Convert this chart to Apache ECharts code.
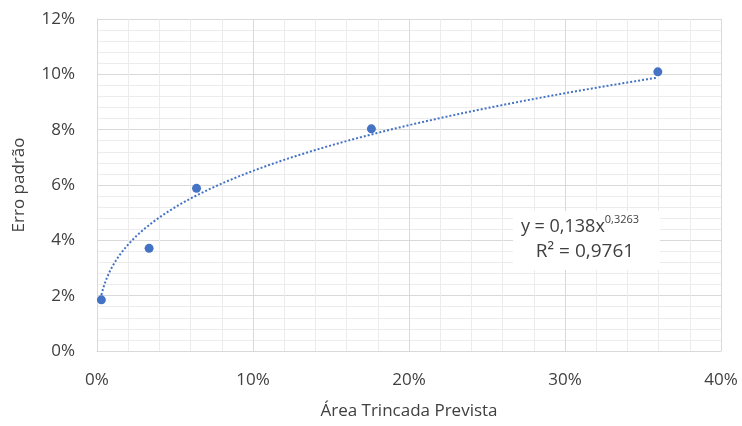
<!DOCTYPE html>
<html>
<head>
<meta charset="utf-8">
<script src="https://cdn.jsdelivr.net/npm/echarts@6/dist/echarts.min.js"></script>
<style>
  html, body { margin: 0; padding: 0; background: #fff; }
  #chart { width: 742px; height: 426px; }
</style>
</head>
<body>
<div id="chart"></div>
<script>
// Observed points: predicted cracked area vs. standard error (fractions)
const areaPrevista = [0.0028, 0.0334, 0.0638, 0.1759, 0.3595];
const erroPadrao   = [0.0185, 0.0371, 0.0588, 0.0803, 0.1009];

// Power trendline y = a * x^b and its R²
const trendA = 0.138;
const trendB = 0.3263;
const trendR2 = '0,9761';

// Axis ranges and tick steps
const xMax = 0.40, xStep = 0.10;
const yMax = 0.12, yStep = 0.02;

const FONT = '"Open Sans", "Noto Sans", sans-serif';
const TEXT = '#404040';
const BLUE = '#4472C4';

// Sample the fitted curve across the span of the observations
const xLo = Math.min(...areaPrevista), xHi = Math.max(...areaPrevista);
const trend = [];
const steps = 200;
for (let i = 0; i <= steps; i++) {
  const x = xLo + (xHi - xLo) * i / steps;
  trend.push([x, trendA * Math.pow(x, trendB)]);
}

const pct = v => Math.round(v * 100) + '%';
const dec = v => String(v).replace('.', ',');

const chart = echarts.init(document.getElementById('chart'), null, { renderer: 'canvas' });
chart.setOption({
  animation: false,
  backgroundColor: '#ffffff',
  textStyle: { fontFamily: FONT },
  grid: { left: 97, right: 21, top: 19, bottom: 75, containLabel: false },
  xAxis: {
    type: 'value', min: 0, max: xMax, interval: xStep,
    name: 'Área Trincada Prevista', nameLocation: 'middle', nameGap: 52,
    nameTextStyle: { fontSize: 17, color: TEXT, fontFamily: FONT },
    axisLabel: { formatter: pct, fontSize: 17, color: TEXT, margin: 21, fontFamily: FONT },
    axisLine: { show: true, lineStyle: { color: '#d9d9d9', width: 1 } },
    axisTick: { show: false },
    splitLine: { show: true, lineStyle: { color: '#d9d9d9', width: 1 } },
    minorTick: { show: false, splitNumber: 5 },
    minorSplitLine: { show: true, lineStyle: { color: '#ececec', width: 1 } }
  },
  yAxis: {
    type: 'value', min: 0, max: yMax, interval: yStep,
    name: 'Erro padrão', nameLocation: 'middle', nameGap: 69, nameRotate: 90,
    nameTextStyle: { fontSize: 17, color: TEXT, fontFamily: FONT },
    axisLabel: { formatter: pct, fontSize: 17, color: TEXT, margin: 22, fontFamily: FONT },
    axisLine: { show: true, lineStyle: { color: '#d9d9d9', width: 1 } },
    axisTick: { show: false },
    splitLine: { show: true, lineStyle: { color: '#d9d9d9', width: 1 } },
    minorTick: { show: false, splitNumber: 5 },
    minorSplitLine: { show: true, lineStyle: { color: '#ececec', width: 1 } }
  },
  series: [
    {
      name: 'Tendência',
      type: 'line',
      data: trend,
      showSymbol: false,
      smooth: false,
      lineStyle: { color: BLUE, width: 2, type: [2, 2] },
      z: 2
    },
    {
      name: 'Erro padrão',
      type: 'scatter',
      data: areaPrevista.map((x, i) => [x, erroPadrao[i]]),
      symbolSize: 9,
      itemStyle: { color: BLUE, opacity: 1 },
      z: 3
    }
  ],
  graphic: [
    {
      type: 'rect',
      x: 513, y: 211,
      shape: { width: 147, height: 59 },
      style: { fill: '#ffffff' },
      z: 10
    },
    {
      type: 'text',
      x: 580, y: 227,
      style: {
        text: '{b|y = ' + dec(trendA) + 'x}{s|' + dec(trendB) + '}',
        align: 'center',
        verticalAlign: 'middle',
        rich: {
          b: { fontSize: 18, fontFamily: FONT, fill: '#404040' },
          s: { fontSize: 11, fontFamily: FONT, fill: '#404040', padding: [0, 0, 14, 0] }
        }
      },
      z: 11
    },
    {
      type: 'text',
      x: 585, y: 252,
      style: {
        text: 'R² = ' + trendR2,
        align: 'center',
        verticalAlign: 'middle',
        fontSize: 19, fontFamily: FONT, fill: '#404040'
      },
      z: 11
    }
  ]
});
</script>
</body>
</html>
